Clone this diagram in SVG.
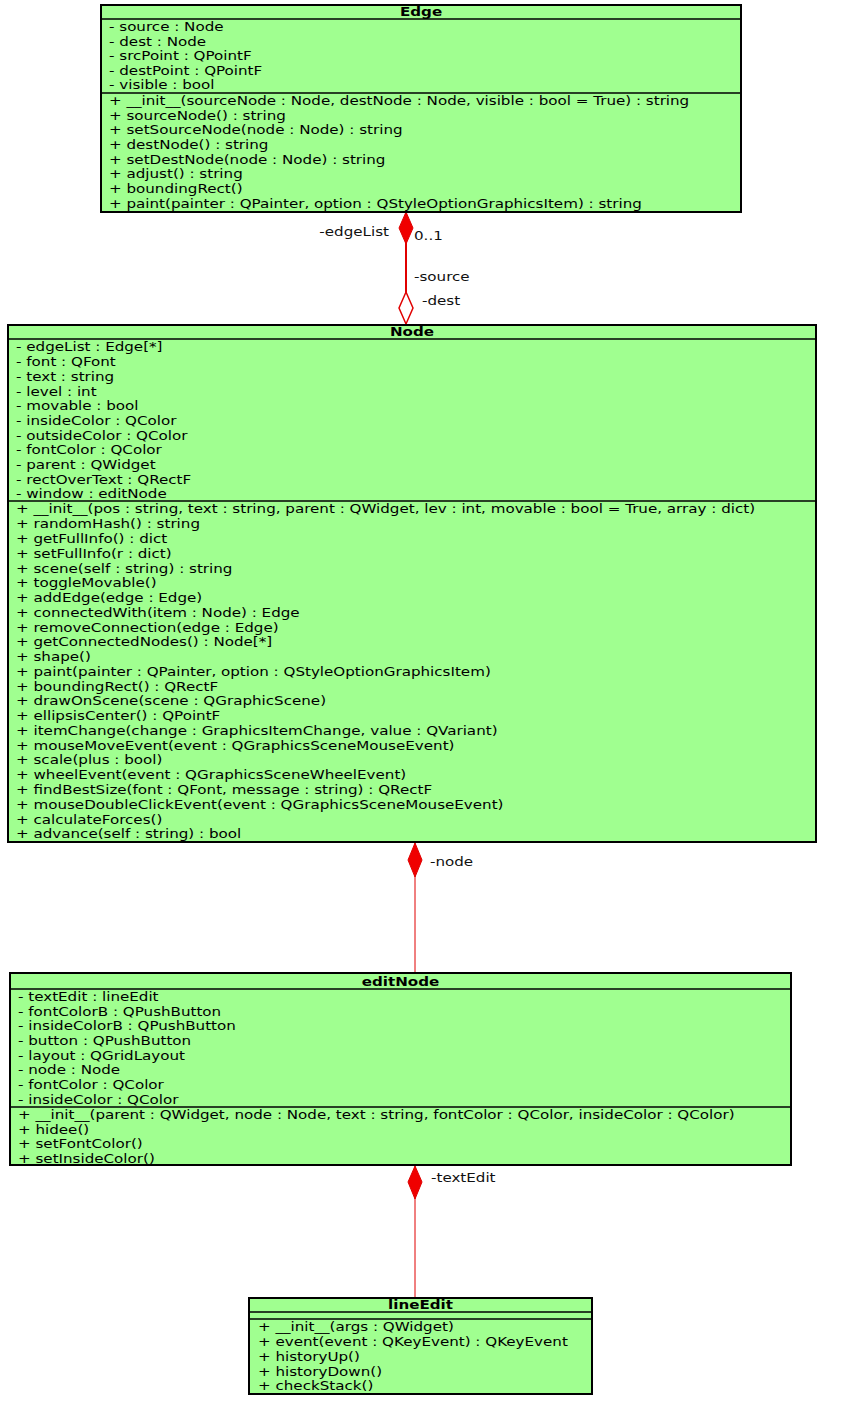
<svg xmlns="http://www.w3.org/2000/svg" width="842" height="1408" viewBox="0 0 842 1408">
<style>
.box{fill:#a0ff90;stroke:#000;stroke-width:2}
.div{stroke:#000;stroke-width:1.5}
.t{font-family:"DejaVu Sans",sans-serif;font-size:12.5px;fill:#000}
.h{font-family:"DejaVu Sans",sans-serif;font-size:12.5px;font-weight:bold;fill:#000;text-anchor:middle}
.lbl{font-family:"DejaVu Sans",sans-serif;font-size:12.5px;fill:#111}
.ln{stroke:#e00000;fill:none}
.fd{fill:#f00000;stroke:#e00000;stroke-width:1}
.hd{fill:#fff;stroke:#e00000;stroke-width:1.5}
</style>
<rect width="842" height="1408" fill="#fff"/>
<g id="connectors">
<line class="ln" x1="406" y1="212" x2="406" y2="325" stroke-width="2"/>
<polygon class="fd" points="406,212 413,228 406,244 399,228"/>
<polygon class="hd" points="406,292 413,308 406,324 399,308"/>
<g transform="translate(389,0) scale(1.21,1)"><text class="lbl" x="0" y="236" text-anchor="end">-edgeList</text></g>
<g transform="translate(414,0) scale(1.21,1)"><text class="lbl" x="0" y="240">0..1</text></g>
<g transform="translate(414,0) scale(1.21,1)"><text class="lbl" x="0" y="281">-source</text></g>
<g transform="translate(422,0) scale(1.21,1)"><text class="lbl" x="0" y="305">-dest</text></g>
<line class="ln" x1="415" y1="842" x2="415" y2="973" stroke-width="1"/>
<polygon class="fd" points="415,843 422,860 415,877 408,860"/>
<g transform="translate(430,0) scale(1.21,1)"><text class="lbl" x="0" y="866">-node</text></g>
<line class="ln" x1="415" y1="1165" x2="415" y2="1298" stroke-width="1"/>
<polygon class="fd" points="415,1166 422,1182 415,1199 408,1182"/>
<g transform="translate(431,0) scale(1.21,1)"><text class="lbl" x="0" y="1182">-textEdit</text></g>
</g>
<g id="Edge">
<rect class="box" x="101" y="5" width="640" height="207"/>
<line class="div" x1="101" y1="19" x2="741" y2="19"/>
<line class="div" x1="101" y1="93" x2="741" y2="93"/>
<g transform="translate(109,0) scale(1.21,1)">
<text class="h" x="257.9" y="16">Edge</text>
<text class="t" x="0" y="31">- source : Node</text>
<text class="t" x="0" y="45.6">- dest : Node</text>
<text class="t" x="0" y="60.2">- srcPoint : QPointF</text>
<text class="t" x="0" y="74.8">- destPoint : QPointF</text>
<text class="t" x="0" y="89.4">- visible : bool</text>
<text class="t" x="0" y="105">+ __init__(sourceNode : Node, destNode : Node, visible : bool = True) : string</text>
<text class="t" x="0" y="119.7">+ sourceNode() : string</text>
<text class="t" x="0" y="134.4">+ setSourceNode(node : Node) : string</text>
<text class="t" x="0" y="149.1">+ destNode() : string</text>
<text class="t" x="0" y="163.8">+ setDestNode(node : Node) : string</text>
<text class="t" x="0" y="178.5">+ adjust() : string</text>
<text class="t" x="0" y="193.2">+ boundingRect()</text>
<text class="t" x="0" y="207.9">+ paint(painter : QPainter, option : QStyleOptionGraphicsItem) : string</text>
</g>
</g>
<g id="Node">
<rect class="box" x="8" y="325" width="808" height="517"/>
<line class="div" x1="8" y1="339" x2="816" y2="339"/>
<line class="div" x1="8" y1="501" x2="816" y2="501"/>
<g transform="translate(16,0) scale(1.21,1)">
<text class="h" x="327.3" y="336">Node</text>
<text class="t" x="0" y="351.5">- edgeList : Edge[*]</text>
<text class="t" x="0" y="366.2">- font : QFont</text>
<text class="t" x="0" y="380.9">- text : string</text>
<text class="t" x="0" y="395.6">- level : int</text>
<text class="t" x="0" y="410.3">- movable : bool</text>
<text class="t" x="0" y="425">- insideColor : QColor</text>
<text class="t" x="0" y="439.7">- outsideColor : QColor</text>
<text class="t" x="0" y="454.4">- fontColor : QColor</text>
<text class="t" x="0" y="469.1">- parent : QWidget</text>
<text class="t" x="0" y="483.8">- rectOverText : QRectF</text>
<text class="t" x="0" y="498.5">- window : editNode</text>
<text class="t" x="0" y="513.5">+ __init__(pos : string, text : string, parent : QWidget, lev : int, movable : bool = True, array : dict)</text>
<text class="t" x="0" y="528.3">+ randomHash() : string</text>
<text class="t" x="0" y="543">+ getFullInfo() : dict</text>
<text class="t" x="0" y="557.8">+ setFullInfo(r : dict)</text>
<text class="t" x="0" y="572.6">+ scene(self : string) : string</text>
<text class="t" x="0" y="587.3">+ toggleMovable()</text>
<text class="t" x="0" y="602.1">+ addEdge(edge : Edge)</text>
<text class="t" x="0" y="616.9">+ connectedWith(item : Node) : Edge</text>
<text class="t" x="0" y="631.6">+ removeConnection(edge : Edge)</text>
<text class="t" x="0" y="646.4">+ getConnectedNodes() : Node[*]</text>
<text class="t" x="0" y="661.2">+ shape()</text>
<text class="t" x="0" y="675.9">+ paint(painter : QPainter, option : QStyleOptionGraphicsItem)</text>
<text class="t" x="0" y="690.7">+ boundingRect() : QRectF</text>
<text class="t" x="0" y="705.5">+ drawOnScene(scene : QGraphicScene)</text>
<text class="t" x="0" y="720.2">+ ellipsisCenter() : QPointF</text>
<text class="t" x="0" y="735">+ itemChange(change : GraphicsItemChange, value : QVariant)</text>
<text class="t" x="0" y="749.8">+ mouseMoveEvent(event : QGraphicsSceneMouseEvent)</text>
<text class="t" x="0" y="764.5">+ scale(plus : bool)</text>
<text class="t" x="0" y="779.3">+ wheelEvent(event : QGraphicsSceneWheelEvent)</text>
<text class="t" x="0" y="794.1">+ findBestSize(font : QFont, message : string) : QRectF</text>
<text class="t" x="0" y="808.8">+ mouseDoubleClickEvent(event : QGraphicsSceneMouseEvent)</text>
<text class="t" x="0" y="823.6">+ calculateForces()</text>
<text class="t" x="0" y="838.4">+ advance(self : string) : bool</text>
</g>
</g>
<g id="editNode">
<rect class="box" x="10" y="973" width="781" height="192"/>
<line class="div" x1="10" y1="989" x2="791" y2="989"/>
<line class="div" x1="10" y1="1107" x2="791" y2="1107"/>
<g transform="translate(18,0) scale(1.21,1)">
<text class="h" x="316.1" y="986">editNode</text>
<text class="t" x="0" y="1001">- textEdit : lineEdit</text>
<text class="t" x="0" y="1015.7">- fontColorB : QPushButton</text>
<text class="t" x="0" y="1030.4">- insideColorB : QPushButton</text>
<text class="t" x="0" y="1045.1">- button : QPushButton</text>
<text class="t" x="0" y="1059.8">- layout : QGridLayout</text>
<text class="t" x="0" y="1074.5">- node : Node</text>
<text class="t" x="0" y="1089.2">- fontColor : QColor</text>
<text class="t" x="0" y="1103.9">- insideColor : QColor</text>
<text class="t" x="0" y="1119">+ __init__(parent : QWidget, node : Node, text : string, fontColor : QColor, insideColor : QColor)</text>
<text class="t" x="0" y="1133.7">+ hidee()</text>
<text class="t" x="0" y="1148.4">+ setFontColor()</text>
<text class="t" x="0" y="1163.1">+ setInsideColor()</text>
</g>
</g>
<g id="lineEdit">
<rect class="box" x="249" y="1298" width="343" height="96"/>
<line class="div" x1="249" y1="1312" x2="592" y2="1312"/>
<line class="div" x1="249" y1="1319" x2="592" y2="1319"/>
<g transform="translate(258,0) scale(1.21,1)">
<text class="h" x="134.3" y="1309.5">lineEdit</text>
<text class="t" x="0" y="1331.5">+ __init__(args : QWidget)</text>
<text class="t" x="0" y="1346.2">+ event(event : QKeyEvent) : QKeyEvent</text>
<text class="t" x="0" y="1360.9">+ historyUp()</text>
<text class="t" x="0" y="1375.6">+ historyDown()</text>
<text class="t" x="0" y="1390.3">+ checkStack()</text>
</g>
</g>
</svg>
